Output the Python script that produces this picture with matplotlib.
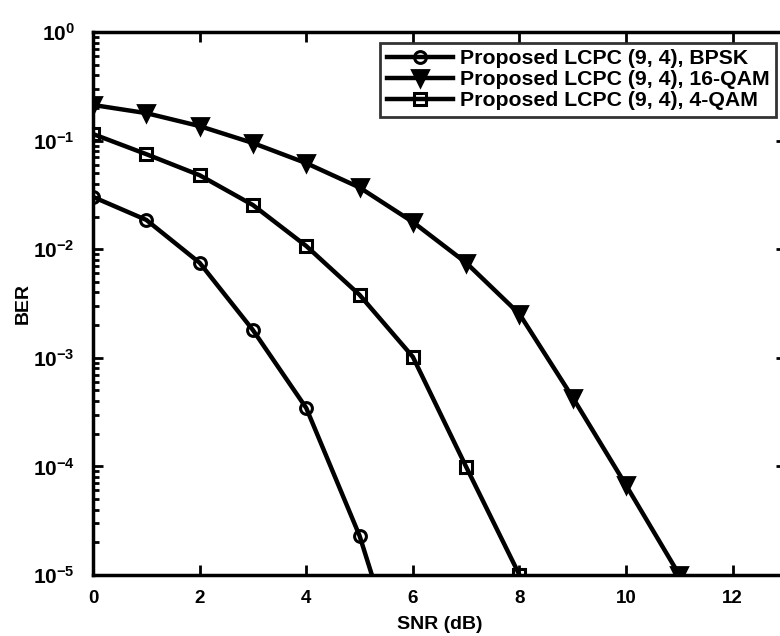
import math
import matplotlib
matplotlib.use("Agg")
import matplotlib.pyplot as plt
from matplotlib.ticker import FuncFormatter, LogLocator

plt.rcParams['font.family'] = ['Liberation Sans', 'DejaVu Sans']
plt.rcParams['font.weight'] = 'bold'
plt.rcParams['mathtext.fontset'] = 'custom'
plt.rcParams['mathtext.bf'] = 'Liberation Sans:bold'
plt.rcParams['mathtext.rm'] = 'Liberation Sans:bold'

# data
snr_bpsk = [0, 1, 2, 3, 4, 5, 6]
ber_bpsk = [0.0303, 0.0186, 0.0075, 0.0018, 3.45e-4, 2.3e-5, 6.3e-7]

snr_16qam = [0, 1, 2, 3, 4, 5, 6, 7, 8, 9, 10, 11]
ber_16qam = [0.213, 0.179, 0.136, 0.095, 0.062, 0.037, 0.0178, 0.0075, 0.00253, 4.3e-4, 6.7e-5, 1.0e-5]

snr_4qam = [0, 1, 2, 3, 4, 5, 6, 7, 8]
ber_4qam = [0.115, 0.075, 0.048, 0.0255, 0.0107, 0.0038, 1.02e-3, 9.9e-5, 1.0e-5]

labels = ["Proposed LCPC (9, 4), BPSK", "Proposed LCPC (9, 4), 16-QAM", "Proposed LCPC (9, 4), 4-QAM"]
xticks = [0, 2, 4, 6, 8, 10, 12]

fig = plt.figure(figsize=(7.8, 6.36), dpi=100)
# right spine sits just past the picture edge, as in the cropped original
ax = fig.add_axes([93 / 780, 1 - 575 / 636, (786 - 93) / 780, (575 - 32) / 636])

ax.semilogy(snr_bpsk, ber_bpsk, 'k-', marker='o', markersize=8.5, markerfacecolor='none',
            markeredgewidth=2.2, linewidth=3.2, label=labels[0])
ax.semilogy(snr_16qam, ber_16qam, 'k-', marker='v', markersize=11, markerfacecolor='k',
            markeredgewidth=2, linewidth=3.2, label=labels[1])
ax.semilogy(snr_4qam, ber_4qam, 'k-', marker='s', markersize=9, markerfacecolor='none',
            markeredgewidth=2.2, linewidth=3.2, label=labels[2])

ax.set_xlim(0, 13)
ax.set_ylim(1e-5, 1)
ax.set_xticks(xticks)
ax.yaxis.set_major_locator(LogLocator(base=10, numticks=10))
ax.yaxis.set_minor_locator(LogLocator(base=10, subs=range(2, 10), numticks=10))
ax.yaxis.set_major_formatter(FuncFormatter(lambda v, p: r'$\mathbf{10^{%d}}$' % round(math.log10(v))))

ax.tick_params(which='both', direction='in', top=True, right=True, width=2)
ax.tick_params(axis='x', labelsize=13.5, pad=11)
ax.tick_params(axis='y', labelsize=15, pad=13)
ax.tick_params(which='major', length=7)
ax.tick_params(which='minor', length=4)
for s in ax.spines.values():
    s.set_linewidth(2.5)

ax.set_xlabel("SNR (dB)", fontsize=14, fontweight='bold', labelpad=6)
ax.set_ylabel("BER", fontsize=14, fontweight='bold', labelpad=1)

leg = ax.legend(loc='upper right', bbox_to_anchor=(0.9856, 0.98), borderaxespad=0,
                fontsize=15.3, frameon=True, fancybox=False,
                handlelength=3.1, borderpad=0.3, labelspacing=0.1,
                handletextpad=0.35)
leg.get_frame().set_edgecolor('k')
leg.get_frame().set_linewidth(2)

fig.savefig("out.png", dpi=100)
